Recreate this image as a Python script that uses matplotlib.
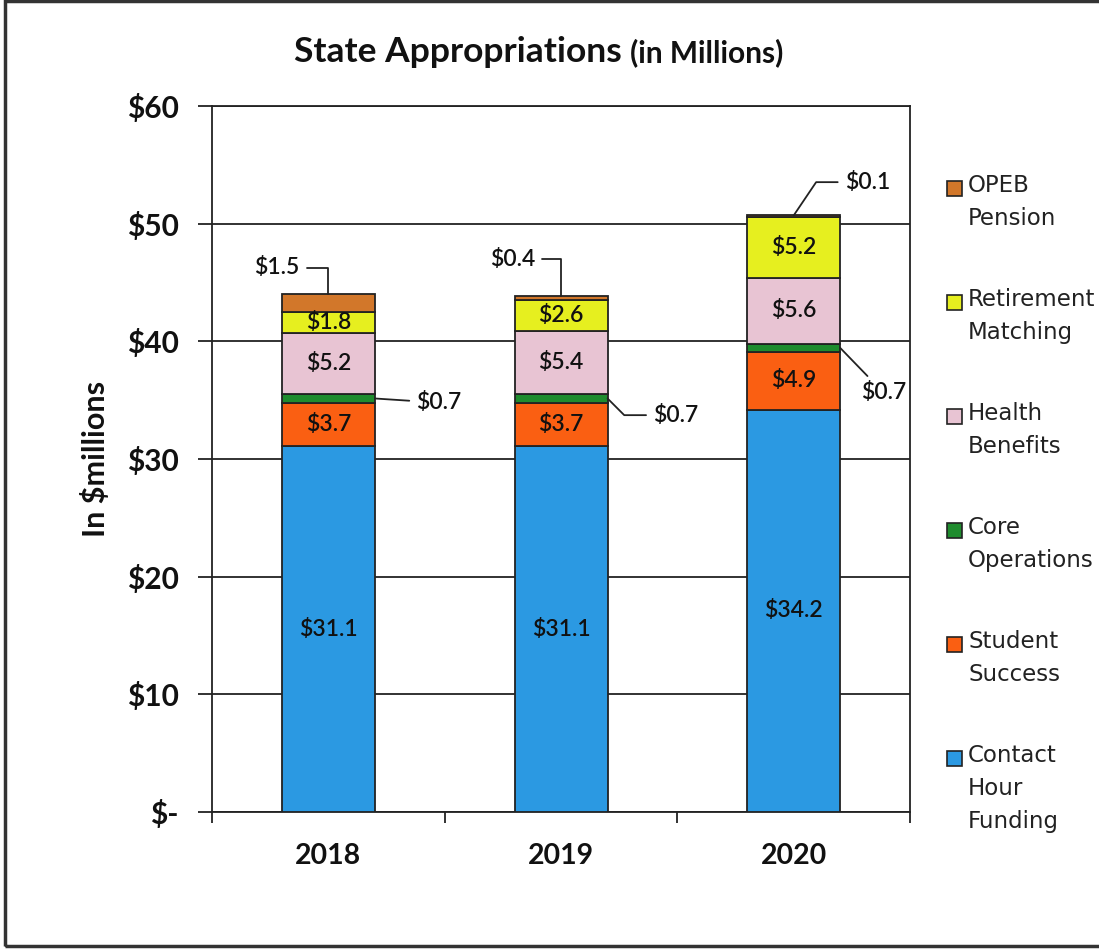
import matplotlib.pyplot as plt
from matplotlib.patches import Rectangle
from matplotlib.ticker import MultipleLocator, FuncFormatter

years = ["2018", "2019", "2020"]
categories = ["Contact Hour Funding", "Student Success", "Core Operations",
              "Health Benefits", "Retirement Matching", "OPEB Pension"]
legend_labels = ["Contact\nHour\nFunding", "Student\nSuccess", "Core\nOperations",
                 "Health\nBenefits", "Retirement\nMatching", "OPEB\nPension"]
contact_hour = [31.1, 31.1, 34.2]
student_success = [3.7, 3.7, 4.9]
core_ops = [0.7, 0.7, 0.7]
health = [5.2, 5.4, 5.6]
retirement = [1.8, 2.6, 5.2]
opeb = [1.5, 0.4, 0.1]
series = [contact_hour, student_success, core_ops, health, retirement, opeb]
colors = ["#2b99e2", "#fa5f12", "#1f8c2e", "#e8c4d3", "#e6ef1f", "#d2772a"]

calibri = ["Lato", "DejaVu Sans"]
width = 0.40
W, H = 1099, 951

fig = plt.figure(figsize=(10.99, 9.51), dpi=100)
ax = fig.add_axes([0.193, 0.146, 0.635, 0.7425])

x = list(range(len(years)))
bottoms = [0.0] * len(years)
for vals, col, name in zip(series, colors, categories):
    ax.bar(x, vals, width, bottom=bottoms, color=col, edgecolor="#222222",
           linewidth=1.3, zorder=3, label=name)
    bottoms = [b + v for b, v in zip(bottoms, vals)]
tops = bottoms

# labels inside segments
for si in [0, 1, 3, 4]:
    vals = series[si]
    for i, v in enumerate(vals):
        base = sum(series[k][i] for k in range(si))
        ax.text(i, base + v / 2, f"${v:.1f}", ha="center", va="center",
                fontsize=16.5, family=calibri, fontweight="semibold",
                color="#111111", zorder=4)

core_mid = [contact_hour[i] + student_success[i] + core_ops[i] / 2 for i in range(3)]
line_kw = dict(arrowstyle="-", color="#222222", lw=1.3, shrinkA=3, shrinkB=0)
lab_kw = dict(fontsize=16.5, family=calibri, fontweight="semibold", color="#111111",
              ha="center", va="center")

# OPEB call-outs
ax.annotate(f"${opeb[0]:.1f}", xy=(0, tops[0]), xytext=(-37, 19), textcoords="offset points",
            arrowprops=dict(connectionstyle="angle,angleA=0,angleB=90,rad=0", **line_kw), **lab_kw)
ax.annotate(f"${opeb[1]:.1f}", xy=(1, tops[1]), xytext=(-35, 26), textcoords="offset points",
            arrowprops=dict(connectionstyle="angle,angleA=0,angleB=90,rad=0", **line_kw), **lab_kw)
ax.annotate(f"${opeb[2]:.1f}", xy=(2, tops[2]), xytext=(53, 24), textcoords="offset points",
            arrowprops=dict(connectionstyle="angle,angleA=0,angleB=56,rad=0", **line_kw), **lab_kw)

# Core operations call-outs
ax.annotate(f"${core_ops[0]:.1f}", xy=(0 + width / 2, core_mid[0]), xytext=(46, -3),
            textcoords="offset points", arrowprops=dict(connectionstyle="arc3", **line_kw), **lab_kw)
ax.annotate(f"${core_ops[1]:.1f}", xy=(1 + width / 2, core_mid[1]), xytext=(49, -12),
            textcoords="offset points",
            arrowprops=dict(connectionstyle="angle,angleA=0,angleB=-45,rad=0", **line_kw), **lab_kw)
ax.annotate(f"${core_ops[2]:.1f}", xy=(2 + width / 2, core_mid[2]), xytext=(31, -32),
            textcoords="offset points", arrowprops=dict(connectionstyle="arc3", **line_kw), **lab_kw)

ax.set_xlim(-0.5, 2.5)
ax.set_ylim(0, 60)
ax.yaxis.set_major_locator(MultipleLocator(10))
ax.yaxis.set_major_formatter(FuncFormatter(lambda v, p: "$-" if v == 0 else f"${v:.0f}"))
ax.grid(axis="y", color="#222222", lw=1.3, zorder=1)
ax.set_axisbelow(True)
ax.set_xticks(x)
ax.set_xticklabels(years)
ax.set_xticks([-0.5, 0.5, 1.5, 2.5], minor=True)
ax.tick_params(axis="x", which="major", length=0, pad=22)
ax.tick_params(axis="x", which="minor", length=8, width=1.3, color="#222222")
ax.tick_params(axis="y", length=10, width=1.3, color="#222222", pad=14)
for lab in ax.get_xticklabels():
    lab.set_family(calibri)
    lab.set_fontweight("bold")
    lab.set_fontsize(20.5)
    lab.set_color("#111111")
for lab in ax.get_yticklabels():
    lab.set_family(calibri)
    lab.set_fontweight("bold")
    lab.set_fontsize(21.5)
    lab.set_color("#111111")
for sp in ax.spines.values():
    sp.set_color("#222222")
    sp.set_linewidth(1.3)

ax.set_ylabel("In $millions", fontsize=22, fontweight="bold", family=calibri,
              color="#111111", labelpad=12)

# legend drawn by hand so the swatch sits beside the first line of each label
for k, (lab, col) in enumerate(zip(legend_labels[::-1], colors[::-1])):
    yc = 188 + 114 * k
    fig.patches.append(Rectangle((947 / W, 1 - (yc + 7.5) / H), 15 / W, 15 / H,
                                 transform=fig.transFigure, facecolor=col,
                                 edgecolor="#222222", lw=1.2))
    fig.text(968 / W, 1 - (yc - 14) / H, lab, ha="left", va="top", fontsize=16.5,
             family="DejaVu Sans", color="#222222", linespacing=1.55)

fig.text(622 / W, 0.935, "State Appropriations", ha="right", va="baseline",
         fontsize=25.5, fontweight="bold", family=calibri, color="#111111")
fig.text(630 / W, 0.935, "(in Millions)", ha="left", va="baseline",
         fontsize=21.5, fontweight="bold", family=calibri, color="#111111")

fig.patches.append(Rectangle((5 / W, 5 / H), 1.2, 1 - 6 / H, transform=fig.transFigure,
                             fill=False, edgecolor="#333333", lw=2.5, clip_on=False))

fig.savefig("out.png", dpi=100, facecolor="white")
